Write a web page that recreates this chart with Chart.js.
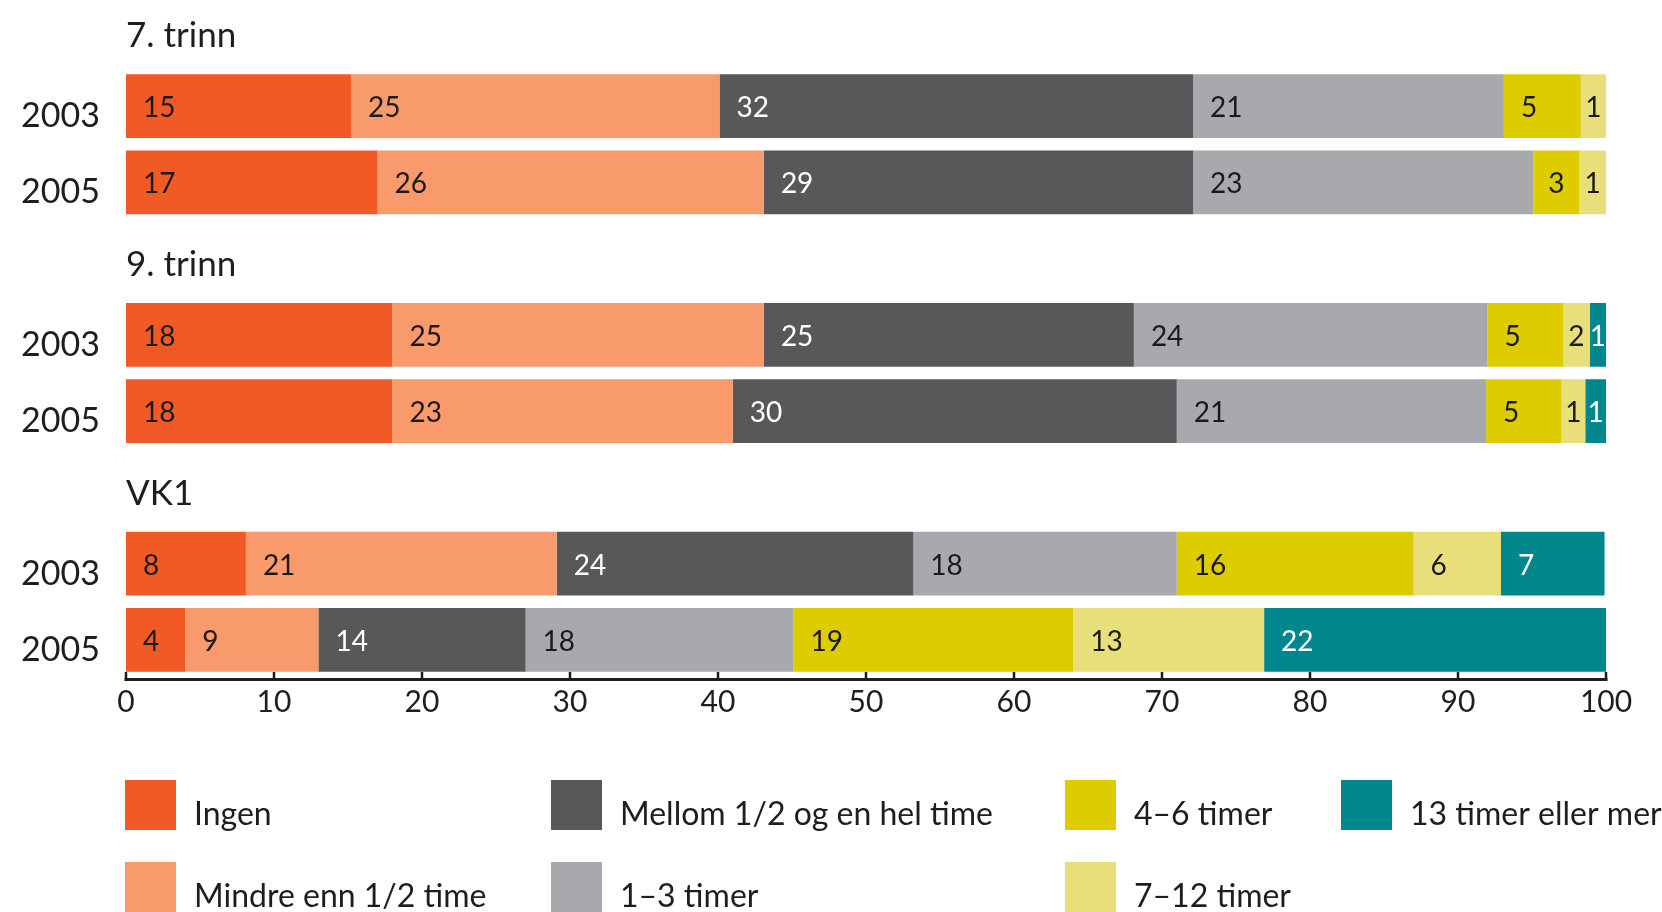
<!DOCTYPE html>
<html><head><meta charset="utf-8">
<script src="https://cdn.jsdelivr.net/npm/chart.js@4.4.1/dist/chart.umd.min.js"></script>
<style>html,body{margin:0;padding:0;background:#fff;overflow:hidden}#wrap{position:relative;width:1662px;height:912px}canvas{display:block}</style>
</head><body><div id="wrap"><canvas id="c" width="1662" height="912"></canvas></div>
<script>
// Row categories (empty rows hold the group titles)
const categories = ['2003', '2005', '', '2003', '2005', '', '2003', '2005'];
const groupTitles = ['7. trinn', '9. trinn', 'VK1'];
const groupFirstRow = [0, 3, 6];
const xTicks = [0, 10, 20, 30, 40, 50, 60, 70, 80, 90, 100];

const seriesNames = ['Ingen', 'Mindre enn 1/2 time', 'Mellom 1/2 og en hel time', '1–3 timer', '4–6 timer', '7–12 timer', '13 timer eller mer'];
const seriesColors = ['#F15A24', '#F89A6B', '#58585B', '#A8A9AD', '#DDCC00', '#E8DE7A', '#00868D'];
const labelColors = ['#1a1a1a', '#1a1a1a', '#ffffff', '#1a1a1a', '#1a1a1a', '#1a1a1a', '#ffffff'];

// Segment lengths (percent) as drawn
const ingen      = [15.2, 17.0, null, 18.0, 18.0, null, 8.1, 4.0];
const mindre     = [24.9, 26.1, null, 25.1, 23.0, null, 21.0, 9.0];
const mellom     = [32.0, 29.0, null, 25.0, 30.0, null, 24.1, 14.0];
const timer1_3   = [21.0, 23.0, null, 23.9, 20.9, null, 17.8, 18.1];
const timer4_6   = [5.2, 3.1, null, 5.1, 5.1, null, 16.0, 18.9];
const timer7_12  = [1.7, 1.8, null, 1.8, 1.6, null, 5.9, 12.9];
const timer13    = [0, 0, null, 1.1, 1.4, null, 7.0, 23.1];

// Printed numbers on the segments
const ingenLbl     = [15, 17, null, 18, 18, null, 8, 4];
const mindreLbl    = [25, 26, null, 25, 23, null, 21, 9];
const mellomLbl    = [32, 29, null, 25, 30, null, 24, 14];
const timer1_3Lbl  = [21, 23, null, 24, 21, null, 18, 18];
const timer4_6Lbl  = [5, 3, null, 5, 5, null, 16, 19];
const timer7_12Lbl = [1, 1, null, 2, 1, null, 6, 13];
const timer13Lbl   = [null, null, null, 1, 1, null, 7, 22];

const seriesValues = [ingen, mindre, mellom, timer1_3, timer4_6, timer7_12, timer13];
const seriesLabels = [ingenLbl, mindreLbl, mellomLbl, timer1_3Lbl, timer4_6Lbl, timer7_12Lbl, timer13Lbl];

const FONT = 'Lato';
const TXT = '#1e1e1e';

const segLabels = {
  id: 'segLabels',
  afterDatasetsDraw(chart) {
    const c = chart.ctx;
    c.save();
    c.font = '28px ' + FONT;
    c.textBaseline = 'middle';
    chart.data.datasets.forEach((ds, di) => {
      const meta = chart.getDatasetMeta(di);
      meta.data.forEach((bar, i) => {
        const lab = seriesLabels[di][i];
        if (lab == null) return;
        const p = bar.getProps(['x', 'y', 'base'], true);
        const x0 = Math.min(p.base, p.x), x1 = Math.max(p.base, p.x);
        const w = x1 - x0;
        c.fillStyle = labelColors[di];
        if (w < 50) { c.textAlign = 'center'; c.fillText(String(lab), (x0 + x1) / 2, p.y + 2); }
        else { c.textAlign = 'left'; c.fillText(String(lab), x0 + 17, p.y + 2); }
      });
    });
    c.restore();
  }
};

const decor = {
  id: 'decor',
  afterDraw(chart) {
    const c = chart.ctx;
    const xs = chart.scales.x;
    const ca = chart.chartArea;
    c.save();
    // axis line and upward ticks
    c.strokeStyle = '#1e1e1e';
    c.lineWidth = 3;
    const yb = ca.bottom + 1.5;
    c.beginPath();
    c.moveTo(xs.getPixelForValue(0) - 1.5, yb);
    c.lineTo(xs.getPixelForValue(100) + 1.5, yb);
    c.stroke();
    c.lineWidth = 2.5;
    xTicks.forEach(v => {
      const x = xs.getPixelForValue(v);
      c.beginPath(); c.moveTo(x, ca.bottom - 6); c.lineTo(x, yb); c.stroke();
    });
    // group titles
    c.fillStyle = TXT;
    c.font = '35px ' + FONT;
    c.textAlign = 'left';
    c.textBaseline = 'alphabetic';
    const meta0 = chart.getDatasetMeta(0);
    groupTitles.forEach((t, g) => {
      const bar = meta0.data[groupFirstRow[g]];
      const p = bar.getProps(['y', 'height'], true);
      const top = p.y - p.height / 2;
      c.fillText(t, ca.left, top - 27);
    });
    // legend (column-major, 2 rows)
    const colX = [125, 551, 1065, 1341];
    const rowTop = [780, 862];
    c.font = '32px ' + FONT;
    seriesNames.forEach((n, i) => {
      const col = Math.floor(i / 2), row = i % 2;
      const x = colX[col], y = rowTop[row];
      c.fillStyle = seriesColors[i];
      c.fillRect(x, y, 51, 50);
      c.fillStyle = TXT;
      c.fillText(n, x + 69, y + 45);
    });
    c.restore();
  }
};

new Chart(document.getElementById('c'), {
  type: 'bar',
  data: {
    labels: categories,
    datasets: seriesNames.map((n, i) => ({
      label: n,
      data: seriesValues[i],
      backgroundColor: seriesColors[i],
      borderWidth: 0,
      barPercentage: 0.835,
      categoryPercentage: 1
    }))
  },
  options: {
    indexAxis: 'y',
    responsive: false,
    maintainAspectRatio: false,
    animation: false,
    layout: { padding: { top: 68, right: 56, bottom: 184, left: 0 } },
    plugins: { legend: { display: false }, tooltip: { enabled: false }, title: { display: false } },
    scales: {
      x: {
        stacked: true, min: 0, max: 100,
        afterBuildTicks(s) { s.ticks = xTicks.map(v => ({ value: v })); },
        ticks: { font: { family: FONT, size: 30 }, color: TXT, padding: -2, maxRotation: 0, autoSkip: false },
        grid: { display: false },
        border: { display: false },
        afterFit(s) { s.height = 50; }
      },
      y: {
        stacked: true,
        ticks: { font: { family: FONT, size: 34 }, color: TXT, padding: 18, labelOffset: 10, autoSkip: false },
        grid: { display: false },
        border: { display: false },
        afterFit(s) { s.width = 126; }
      }
    }
  },
  plugins: [segLabels, decor]
});
</script>
</body></html>
